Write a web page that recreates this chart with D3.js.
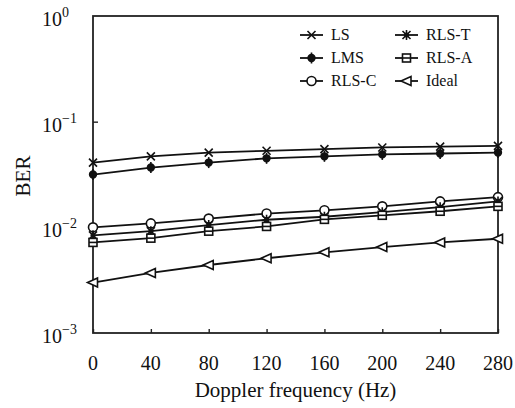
<!DOCTYPE html>
<html><head>
<meta charset="utf-8">
<script src="https://d3js.org/d3.v7.min.js"></script>
<style>
  body { margin: 0; background: #fff; }
  text { font-family: "Liberation Serif", "Times New Roman", serif; fill: #111; }
</style>
</head>
<body>
<svg id="chart" width="515" height="408"></svg>
<script>
// Data
const freqs = [0, 40, 80, 120, 160, 200, 240, 280];
const ls    = [0.041, 0.047, 0.051, 0.053, 0.055, 0.057, 0.058, 0.059];
const lms   = [0.0316, 0.0368, 0.041, 0.045, 0.047, 0.049, 0.050, 0.051];
const rlsC  = [0.0100, 0.0109, 0.0121, 0.0135, 0.0145, 0.0158, 0.0176, 0.0193];
const rlsT  = [0.0084, 0.0092, 0.0105, 0.0118, 0.0126, 0.0139, 0.0155, 0.0176];
const rlsA  = [0.0072, 0.0079, 0.0092, 0.0102, 0.0119, 0.0130, 0.0142, 0.0158];
const ideal = [0.0030, 0.0037, 0.0044, 0.0051, 0.0058, 0.0065, 0.0072, 0.0078];
const yTicks = [1, 0.1, 0.01, 0.001];
const yExp = ["0", "\u22121", "\u22122", "\u22123"];

const series = [
  { name: "LS",    values: ls,    mark: "x" },
  { name: "LMS",   values: lms,   mark: "dot" },
  { name: "RLS-C", values: rlsC,  mark: "circle" },
  { name: "RLS-T", values: rlsT,  mark: "star" },
  { name: "RLS-A", values: rlsA,  mark: "square" },
  { name: "Ideal", values: ideal, mark: "tri" }
];

const svg = d3.select("#chart");
const m = { left: 93, right: 498, top: 16, bottom: 333 };

const x = d3.scaleLinear().domain([0, 280]).range([m.left, m.right]);
const y = d3.scaleLog().domain([0.001, 1]).range([m.bottom, m.top]);

// frame
svg.append("rect")
  .attr("x", m.left).attr("y", m.top)
  .attr("width", m.right - m.left).attr("height", m.bottom - m.top)
  .attr("fill", "none").attr("stroke", "#222").attr("stroke-width", 1.8);

// x ticks (inside)
const xAxis = svg.append("g").attr("transform", `translate(0,${m.bottom})`)
  .call(d3.axisTop(x).tickValues(freqs).tickSize(4).tickFormat(""));
xAxis.select(".domain").remove();
xAxis.selectAll("line").attr("stroke", "#222").attr("stroke-width", 1.4);
svg.selectAll("text.xt").data(freqs).join("text")
  .attr("class", "xt")
  .attr("x", d => x(d)).attr("y", 370)
  .attr("text-anchor", "middle").attr("font-size", 20)
  .text(d => d);

// y ticks (inside, left side)
const yAxis = svg.append("g").attr("transform", `translate(${m.left},0)`)
  .call(d3.axisRight(y).tickValues([0.1, 0.01]).tickSize(5).tickFormat(""));
yAxis.select(".domain").remove();
yAxis.selectAll("line").attr("stroke", "#222").attr("stroke-width", 1.4);

const yl = svg.selectAll("text.yt").data(yTicks).join("text")
  .attr("class", "yt")
  .attr("x", 42).attr("y", d => y(d) + 10)
  .attr("font-size", 20);
yl.append("tspan").text("10");
yl.append("tspan").attr("dy", -9).attr("font-size", 14)
  .text((d, i) => yExp[i]);

// axis titles
svg.append("text")
  .attr("x", (m.left + m.right) / 2).attr("y", 397)
  .attr("text-anchor", "middle").attr("font-size", 21)
  .text("Doppler frequency (Hz)");
svg.append("text")
  .attr("transform", `translate(30,${176}) rotate(-90)`)
  .attr("text-anchor", "middle").attr("font-size", 21)
  .text("BER");

// marker drawing
function drawMark(g, type) {
  const st = { stroke: "#111", "stroke-width": 1.6 };
  const apply = (s) => { for (const k in st) s.attr(k, st[k]); return s; };
  if (type === "x") {
    apply(g.append("path").attr("d", "M-4,-4L4,4M-4,4L4,-4").attr("fill", "none"));
  } else if (type === "dot") {
    apply(g.append("path").attr("d", d3.symbol(d3.symbolCircle, 36)()).attr("fill", "#111"));
    apply(g.append("path").attr("d", "M0,-5.5V5.5").attr("fill", "none"));
  } else if (type === "circle") {
    apply(g.append("circle").attr("r", 4.5).attr("fill", "#fff"));
  } else if (type === "star") {
    apply(g.append("path").attr("d", "M-4,-4L4,4M-4,4L4,-4M0,-5V5").attr("fill", "none"));
    g.append("circle").attr("r", 2.5).attr("fill", "#111");
  } else if (type === "square") {
    apply(g.append("rect").attr("x", -4).attr("y", -4).attr("width", 8).attr("height", 8).attr("fill", "#fff"));
    apply(g.append("path").attr("d", "M-4,0H4").attr("fill", "none"));
  } else if (type === "tri") {
    apply(g.append("path").attr("d", "M-5.5,0L4.5,-4.5L4.5,4.5Z").attr("fill", "#fff"));
  }
}

const line = d3.line().x((d, i) => x(freqs[i])).y(d => y(d));

series.forEach(s => {
  svg.append("path").datum(s.values)
    .attr("d", line)
    .attr("fill", "none").attr("stroke", "#111").attr("stroke-width", 1.8);
});
series.forEach(s => {
  s.values.forEach((v, i) => {
    const g = svg.append("g").attr("transform", `translate(${x(freqs[i])},${y(v)})`);
    drawMark(g, s.mark);
  });
});

// legend
series.forEach((s, i) => {
  const col = Math.floor(i / 3), row = i % 3;
  const lx = 300 + col * 95, ly = 35 + row * 23;
  svg.append("line").attr("x1", lx).attr("x2", lx + 23)
    .attr("y1", ly).attr("y2", ly).attr("stroke", "#111").attr("stroke-width", 1.8);
  drawMark(svg.append("g").attr("transform", `translate(${lx + 11.5},${ly})`), s.mark);
  svg.append("text").attr("x", lx + 31).attr("y", ly + 5)
    .attr("font-size", 16).text(s.name);
});
</script>
</body></html>
